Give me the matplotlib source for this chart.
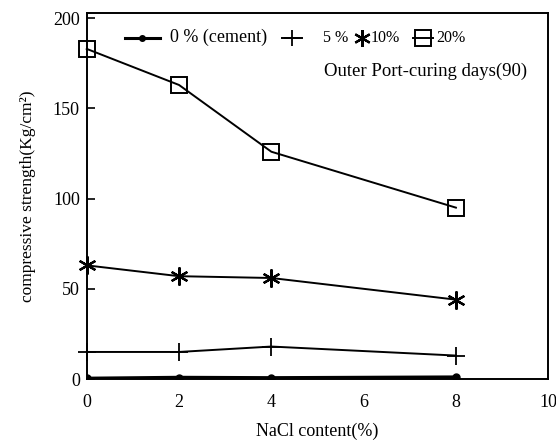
import matplotlib
matplotlib.use("Agg")
import matplotlib.pyplot as plt

plt.rcParams['font.family'] = ['Liberation Serif', 'DejaVu Serif']

nacl = [0, 2, 4, 8]
cement_0 = [0.3, 0.8, 0.6, 1.0]
ash_5 = [15, 15, 18, 13]
ash_10 = [63, 57, 56, 44]
ash_20 = [183, 163, 126, 95]

labels = ["0 % (cement)", "5 %", "10%", "20%"]
x_ticks = [0, 2, 4, 6, 8, 10]
y_ticks = [0, 50, 100, 150, 200]

fig = plt.figure(figsize=(5.56, 4.42), dpi=100)
ax = fig.add_axes([0.156, 0.1425, 0.83, 0.8285])

asterisk = (6, 2, 0)
styles = [
    dict(lw=2.6, marker='o', ms=5),
    dict(lw=1.4, marker='+', ms=13, mew=1.3),
    dict(lw=1.4, marker=asterisk, ms=13, mew=1.6),
    dict(lw=1.4, marker='s', ms=12, mew=1.4, mfc='none'),
]
series = [cement_0, ash_5, ash_10, ash_20]
for i, (ys, st) in enumerate(zip(series, styles)):
    ax.plot(nacl, ys, color='black', clip_on=(i == 0), zorder=3, **st)

ax.set_xlim(0, 10)
ax.set_ylim(0, 203)
ax.set_xticks(x_ticks)
ax.set_yticks(y_ticks)
ax.tick_params(axis='y', direction='in', length=6, width=1.2, labelsize=13, pad=5)
ax.tick_params(axis='x', length=0, labelsize=13, pad=11)
for s in ax.spines.values():
    s.set_linewidth(1.4)

ax.set_xlabel("NaCl content(%)", fontsize=13, labelpad=8)
ax.set_ylabel("compressive strength(Kg/cm²)", fontsize=12.5, labelpad=12)

# legend row drawn in axes coordinates: (handle start, handle end, text x, font size)
legend_y = 0.932
entries = [(0.082, 0.158, 0.180, 13), (0.424, 0.467, 0.512, 11.5),
           (0.596, 0.596, 0.616, 11.5), (0.707, 0.750, 0.758, 11.5)]
for (x0, x1, xt, fs), lab, st in zip(entries, labels, styles):
    st = dict(st)
    marker = st.pop('marker')
    ms = st.pop('ms')
    extra = {k: v for k, v in st.items() if k != 'lw'}
    if x1 > x0:
        ax.plot([x0, x1], [legend_y, legend_y], color='black',
                lw=min(st['lw'], 2.2), transform=ax.transAxes, clip_on=False)
    ax.plot([(x0 + x1) / 2], [legend_y], color='black', marker=marker,
            ms=ms - 1, ls='none', transform=ax.transAxes, clip_on=False,
            **extra)
    ax.text(xt, legend_y, lab, transform=ax.transAxes, ha='left',
            va='center', fontsize=fs)

ax.text(0.954, 0.839, "Outer Port-curing days(90)", transform=ax.transAxes,
        ha='right', va='center', fontsize=13.5)

fig.savefig("out.png", dpi=100)
